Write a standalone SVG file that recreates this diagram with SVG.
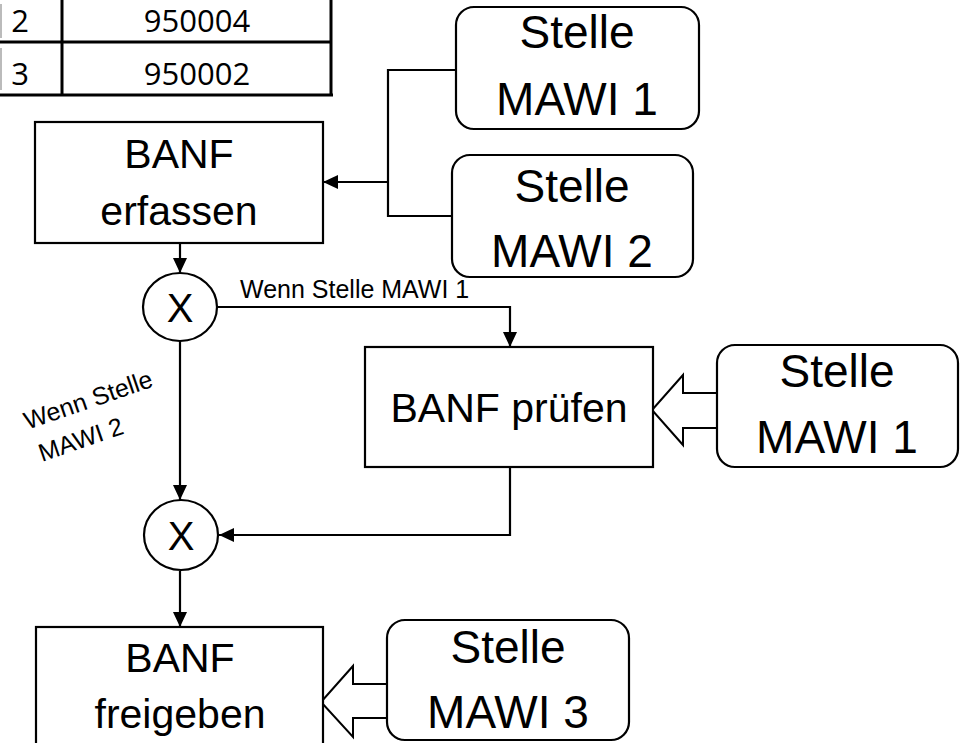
<svg xmlns="http://www.w3.org/2000/svg" width="966" height="743" viewBox="0 0 966 743">
<style>
.box{fill:#fff;stroke:#000;stroke-width:2.2}
.t{font-family:"Liberation Sans",Arial,sans-serif;fill:#000;text-anchor:middle}
.big{font-size:41px}
.st{font-size:46px}
.lbl{font-size:25px}
.x{font-size:40px}
.tab{font-family:"Open Sans","Liberation Sans",sans-serif;font-size:31px;fill:#000;text-anchor:middle}
.ln{fill:none;stroke:#000;stroke-width:2.2}
.hollow{fill:#fff;stroke:#000;stroke-width:2}
</style>
<defs>
<marker id="ah" markerWidth="16" markerHeight="14" refX="15" refY="7" orient="auto" markerUnits="userSpaceOnUse">
<path d="M0,0 L15,7 L0,14 Z" fill="#000"/>
</marker>
</defs>
<rect width="966" height="743" fill="#fff"/>
<g id="table">
<line x1="1" y1="4" x2="1" y2="38" stroke="#bbb" stroke-width="2"/>
<line x1="1" y1="48" x2="1" y2="90" stroke="#bbb" stroke-width="2"/>
<line x1="0" y1="42" x2="332" y2="42" stroke="#000" stroke-width="3"/>
<line x1="0" y1="95" x2="333" y2="95" stroke="#000" stroke-width="3"/>
<line x1="62" y1="0" x2="62" y2="96" stroke="#000" stroke-width="3"/>
<line x1="331" y1="0" x2="331" y2="96" stroke="#000" stroke-width="3"/>
<text class="tab" x="20" y="32">2</text>
<text class="tab" x="197" y="32">950004</text>
<text class="tab" x="20" y="85">3</text>
<text class="tab" x="197" y="85">950002</text>
</g>
<g id="connectors">
<path class="ln" d="M456,70 H388 V216 H452"/>
<path class="ln" d="M388,182 H323" marker-end="url(#ah)"/>
<path class="ln" d="M180,243 V273" marker-end="url(#ah)"/>
<path class="ln" d="M217,307 H510 V347" marker-end="url(#ah)"/>
<path class="ln" d="M180,341 V500" marker-end="url(#ah)"/>
<path class="ln" d="M510,467 V535 H219" marker-end="url(#ah)"/>
<path class="ln" d="M180,571 V627" marker-end="url(#ah)"/>
<path class="hollow" d="M717,393 H683 V375 L652,410 L683,445 V428 H717"/>
<path class="hollow" d="M387,684 H353 V666 L321,702 L353,737 V718 H387"/>
<text class="t lbl" x="240" y="298" style="text-anchor:start">Wenn Stelle MAWI 1</text>
<g transform="translate(91,408) rotate(-19)">
<text class="t lbl" x="0" y="0">Wenn Stelle</text>
<text class="t lbl" x="-20" y="35">MAWI 2</text>
</g>
</g>
<g id="banf_erfassen">
<rect class="box" x="35" y="122" width="288" height="121"/>
<text class="t big" x="179" y="168">BANF</text>
<text class="t big" x="179" y="225">erfassen</text>
</g>
<g id="stelle_mawi1_top">
<rect class="box" x="456" y="7" width="243" height="122" rx="18"/>
<text class="t st" x="577" y="48">Stelle</text>
<text class="t st" x="577" y="115">MAWI 1</text>
</g>
<g id="stelle_mawi2">
<rect class="box" x="452" y="155" width="241" height="122" rx="18"/>
<text class="t st" x="572" y="202">Stelle</text>
<text class="t st" x="572" y="267">MAWI 2</text>
</g>
<g id="xor_split">
<ellipse class="box" cx="180" cy="307" rx="37" ry="34"/>
<text class="t x" x="180" y="322">X</text>
</g>
<g id="banf_pruefen">
<rect class="box" x="365" y="347" width="288" height="120"/>
<text class="t big" x="509" y="422">BANF prüfen</text>
</g>
<g id="stelle_mawi1_right">
<rect class="box" x="717" y="345" width="241" height="122" rx="18"/>
<text class="t st" x="837" y="387">Stelle</text>
<text class="t st" x="837" y="453">MAWI 1</text>
</g>
<g id="xor_join">
<ellipse class="box" cx="181" cy="535" rx="37" ry="35"/>
<text class="t x" x="181" y="550">X</text>
</g>
<g id="banf_freigeben">
<rect class="box" x="36" y="627" width="287" height="130"/>
<text class="t big" x="180" y="672">BANF</text>
<text class="t big" x="180" y="728">freigeben</text>
</g>
<g id="stelle_mawi3">
<rect class="box" x="387" y="620" width="242" height="120" rx="18"/>
<text class="t st" x="508" y="663">Stelle</text>
<text class="t st" x="508" y="728">MAWI 3</text>
</g>
</svg>
